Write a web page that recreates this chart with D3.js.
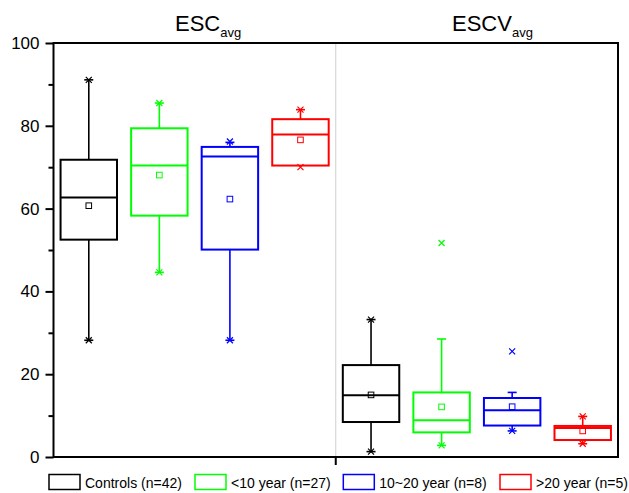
<!DOCTYPE html>
<html>
<head>
<meta charset="utf-8">
<script src="https://cdn.jsdelivr.net/npm/d3@7"></script>
<style>
  body { margin: 0; background: #fff; }
  text { font-family: "Liberation Sans", Arial, sans-serif; fill: #000; }
</style>
</head>
<body>
<script>
var svgWidth = 629;
var svgHeight = 493;
var margin = {top: 43, right: 11, bottom: 36, left: 53.5};
var width = svgWidth - margin.left - margin.right;
var height = svgHeight - margin.top - margin.bottom;

// data
var panels = ["ESC", "ESCV"];
var groups = ["Controls (n=42)", "<10 year (n=27)", "10~20 year (n=8)", ">20 year (n=5)"];
var colors = ["#000000", "#00ff00", "#0000ff", "#ff0000"];

var escQ1      = [52.5, 58.3, 50.1, 70.4];
var escMedian  = [62.7, 70.4, 72.6, 77.9];
var escQ3      = [71.8, 79.4, 74.9, 81.6];
var escMean    = [60.7, 68.1, 62.3, 76.6];
var escWhLow   = [28.2, 44.6, 28.2, 70.4];
var escWhHigh  = [91.1, 85.5, 76.0, 83.9];
var escMinMark = [28.2, 44.6, 28.2, 70.0];
var escMaxMark = [91.1, 85.5, 76.2, 83.9];

var escvQ1      = [8.45, 5.95, 7.6, 4.1];
var escvMedian  = [14.9, 8.9, 11.3, 7.0];
var escvQ3      = [22.2, 15.6, 14.25, 7.5];
var escvMean    = [15.0, 12.1, 12.15, 6.3];
var escvWhLow   = [1.3, 2.8, 6.3, 3.2];
var escvWhHigh  = [33.2, 28.5, 15.6, 9.8];
var escvMinMark = [1.3, 2.8, 6.3, 3.2];
var escvMaxMark = [33.2, 51.7, 25.5, 9.8];

var yMajor = [0, 20, 40, 60, 80, 100];
var yMinor = [10, 30, 50, 70, 90];

// build box records
var boxes = [];
function addPanel(p, q1, med, q3, mean, wl, wh, mn, mx) {
  groups.forEach(function(g, i) {
    boxes.push({key: p + i, group: i, q1: q1[i], median: med[i], q3: q3[i],
                mean: mean[i], wl: wl[i], wh: wh[i], mn: mn[i], mx: mx[i]});
  });
}
addPanel("ESC", escQ1, escMedian, escQ3, escMean, escWhLow, escWhHigh, escMinMark, escMaxMark);
addPanel("ESCV", escvQ1, escvMedian, escvQ3, escvMean, escvWhLow, escvWhHigh, escvMinMark, escvMaxMark);

var svg = d3.select("body")
            .append("svg")
            .attr("width", svgWidth)
            .attr("height", svgHeight);

var chartGroup = svg.append("g")
                    .attr("transform", `translate(${margin.left}, ${margin.top})`);

var xScale = d3.scalePoint()
               .domain(boxes.map(d => d.key))
               .range([0, width])
               .padding(0.5);
var step = xScale.step();
var boxW = step * 0.8;

var yScale = d3.scaleLinear()
               .domain([0, 100])
               .range([height, 0]);

// divider between the two panels
chartGroup.append("line")
          .attr("x1", width / 2).attr("x2", width / 2)
          .attr("y1", 0).attr("y2", height)
          .attr("stroke", "#cfcfcf")
          .attr("stroke-width", 1);

// boxes
var boxG = chartGroup.selectAll("g.box")
                     .data(boxes)
                     .enter()
                     .append("g")
                     .classed("box", true)
                     .attr("transform", d => `translate(${xScale(d.key)}, 0)`)
                     .attr("stroke", d => colors[d.group])
                     .attr("fill", "none");

// whiskers
boxG.append("line")
    .attr("x1", 0).attr("x2", 0)
    .attr("y1", d => yScale(d.q3)).attr("y2", d => yScale(d.wh))
    .attr("stroke-width", 1.6);
boxG.append("line")
    .attr("x1", 0).attr("x2", 0)
    .attr("y1", d => yScale(d.q1)).attr("y2", d => yScale(d.wl))
    .attr("stroke-width", 1.6);
// whisker caps
boxG.append("line")
    .attr("x1", -4.5).attr("x2", 4.5)
    .attr("y1", d => yScale(d.wh)).attr("y2", d => yScale(d.wh))
    .attr("stroke-width", 1.6)
    .attr("display", d => d.wh > d.q3 ? null : "none");
boxG.append("line")
    .attr("x1", -4.5).attr("x2", 4.5)
    .attr("y1", d => yScale(d.wl)).attr("y2", d => yScale(d.wl))
    .attr("stroke-width", 1.6)
    .attr("display", d => d.wl < d.q1 ? null : "none");

// box
boxG.append("rect")
    .attr("x", -boxW / 2)
    .attr("width", boxW)
    .attr("y", d => yScale(d.q3))
    .attr("height", d => yScale(d.q1) - yScale(d.q3))
    .attr("stroke-width", 2)
    .attr("fill", "#fff");

// median
boxG.append("line")
    .attr("x1", -boxW / 2).attr("x2", boxW / 2)
    .attr("y1", d => yScale(d.median)).attr("y2", d => yScale(d.median))
    .attr("stroke-width", 2);

// mean square
boxG.append("rect")
    .attr("x", -2.8).attr("width", 5.6)
    .attr("y", d => yScale(d.mean) - 2.8).attr("height", 5.6)
    .attr("stroke-width", 1);

// min / max x marks
function xMark(sel, acc) {
  sel.append("path")
     .attr("d", function(d) {
       var y = yScale(acc(d)), s = 3;
       return `M${-s},${y - s}L${s},${y + s}M${-s},${y + s}L${s},${y - s}`;
     })
     .attr("stroke-width", 1.2);
}
xMark(boxG, d => d.mn);
xMark(boxG, d => d.mx);

// y axis
var leftAxis = d3.axisLeft(yScale).tickValues(yMajor).tickSize(8).tickPadding(6);
var yAxisG = chartGroup.append("g").call(leftAxis);
yAxisG.select(".domain").remove();
yAxisG.selectAll("line").attr("stroke-width", 2);
yAxisG.selectAll("text")
      .style("font-family", "'Liberation Sans', Arial, sans-serif")
      .style("font-size", "17px");

var minorAxis = d3.axisLeft(yScale).tickValues(yMinor).tickSize(5).tickFormat("");
var yMinorG = chartGroup.append("g").call(minorAxis);
yMinorG.select(".domain").remove();
yMinorG.selectAll("line").attr("stroke-width", 2);

// x axis tick at the panel border
chartGroup.append("line")
          .attr("x1", width / 2).attr("x2", width / 2)
          .attr("y1", height).attr("y2", height + 8)
          .attr("stroke", "#000")
          .attr("stroke-width", 2);

// frame
chartGroup.append("rect")
          .attr("width", width)
          .attr("height", height)
          .attr("fill", "none")
          .attr("stroke", "#000")
          .attr("stroke-width", 2);

// panel titles
var titleX = [175, 452];
panels.forEach(function(p, i) {
  var t = svg.append("text")
             .attr("x", titleX[i])
             .attr("y", 30.5)
             .style("font-size", "22px");
  t.append("tspan").text(p);
  t.append("tspan")
   .attr("dy", 6.5)
   .style("font-size", "13px")
   .text("avg");
});

// legend
var legendX = [49, 195, 343.3, 500];
var legend = svg.selectAll("g.legend")
                .data(groups)
                .enter()
                .append("g")
                .classed("legend", true)
                .attr("transform", (d, i) => `translate(${legendX[i]}, 474.5)`);
legend.append("rect")
      .attr("width", 31)
      .attr("height", 15)
      .attr("fill", "none")
      .attr("stroke", (d, i) => colors[i])
      .attr("stroke-width", 1.5);
legend.append("text")
      .attr("x", 36)
      .attr("y", 13)
      .style("font-size", "14px")
      .text(d => d);
</script>
</body>
</html>
